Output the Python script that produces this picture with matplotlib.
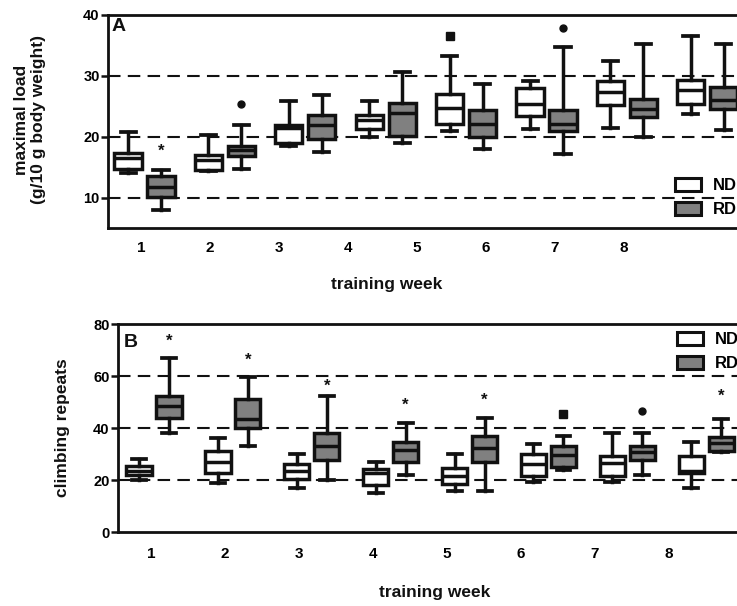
import matplotlib
matplotlib.use("Agg")
import matplotlib.pyplot as plt
from matplotlib.patches import Patch

plt.rcParams['font.family'] = ['Liberation Sans', 'DejaVu Sans']
plt.rcParams['font.weight'] = 'bold'

weeks = ['1', '2', '3', '4', '5', '6', '7', '8']
groups = ['ND', 'RD']

# Panel A: maximal load (g/10 g body weight)
a_nd_whislo = [14.0, 14.3, 18.4, 20.0, 21.0, 21.3, 21.4, 23.8]
a_nd_q1     = [14.7, 14.6, 19.0, 21.2, 22.1, 23.4, 25.2, 25.4]
a_nd_med    = [16.5, 16.2, 21.5, 22.7, 24.7, 25.4, 27.4, 27.6]
a_nd_q3     = [17.3, 17.0, 21.85, 23.6, 27.0, 28.0, 29.1, 29.3]
a_nd_whishi = [20.8, 20.3, 25.9, 25.9, 33.3, 29.1, 32.5, 36.6]

a_rd_whislo = [7.9, 14.7, 17.5, 19.0, 18.0, 17.2, 19.9, 21.1]
a_rd_q1     = [10.1, 16.8, 19.7, 20.05, 19.9, 21.0, 23.2, 24.5]
a_rd_med    = [11.75, 17.75, 21.85, 23.9, 22.1, 22.1, 24.6, 26.1]
a_rd_q3     = [13.5, 18.4, 23.5, 25.5, 24.4, 24.4, 26.2, 28.1]
a_rd_whishi = [14.6, 21.85, 26.9, 30.7, 28.7, 34.8, 35.2, 35.2]

# outliers: (group, week index, value, marker)
a_outliers = [('RD', 1, 25.4, 'o'), ('ND', 4, 36.6, 's'), ('RD', 5, 37.9, 'o')]
a_stars = [('RD', 0, 17.6)]

# Panel B: climbing repeats
b_nd_whislo = [20.0, 19.0, 16.8, 15.1, 15.9, 19.4, 19.1, 16.8]
b_nd_q1     = [22.05, 22.8, 20.3, 18.1, 18.5, 21.7, 21.7, 22.6]
b_nd_med    = [23.6, 27.0, 23.6, 22.6, 21.7, 26.0, 26.4, 23.3]
b_nd_q3     = [25.4, 31.2, 26.0, 24.1, 24.5, 29.9, 29.2, 29.2]
b_nd_whishi = [27.9, 36.0, 29.9, 27.0, 30.0, 33.8, 38.0, 34.7]

b_rd_whislo = [38.0, 33.1, 20.0, 21.9, 15.9, 24.0, 21.9, 30.8]
b_rd_q1     = [44.0, 39.9, 27.7, 26.8, 27.0, 25.0, 27.7, 31.3]
b_rd_med    = [48.5, 43.3, 33.1, 31.5, 32.2, 29.6, 30.6, 34.1]
b_rd_q3     = [52.3, 51.2, 38.2, 34.5, 37.0, 33.2, 33.2, 36.7]
b_rd_whishi = [67.0, 59.5, 52.3, 42.0, 44.0, 37.0, 38.0, 43.3]

b_outliers = [('RD', 5, 45.3, 's'), ('RD', 6, 46.7, 'o')]
b_stars = [('RD', 0, 73.2), ('RD', 1, 65.9), ('RD', 2, 56.2), ('RD', 3, 48.8),
           ('RD', 4, 50.8), ('RD', 7, 52.3)]

W, H = 737, 606
fig = plt.figure(figsize=(W / 100, H / 100), dpi=100)


def px_axes(left, top, right, bottom):
    return fig.add_axes([left / W, 1 - bottom / H, (right - left) / W, (bottom - top) / H])


def stats(wl, q1, md, q3, wh):
    return [dict(whislo=a, q1=b, med=c, q3=d, whishi=e, fliers=[])
            for a, b, c, d, e in zip(wl, q1, md, q3, wh)]


def panel(ax, nd, rd, outliers, stars, off, width, xlim, ylim, grid, yticks,
          tick_start, tick_step, letter, letter_xy, ylabel, ylabel_x, xlabel_y, xlabel_x,
          leg_xy, pad):
    n = len(weeks)
    pos = {'ND': [i + 1 - off for i in range(n)], 'RD': [i + 1 + off for i in range(n)]}
    colors = {'ND': 'white', 'RD': '#808080'}
    for g, st in (('ND', nd), ('RD', rd)):
        ax.bxp(st, positions=pos[g], widths=width, patch_artist=True, showfliers=False,
               capwidths=width * 0.55,
               boxprops=dict(facecolor=colors[g], edgecolor='#111111', linewidth=2.5),
               medianprops=dict(color='#111111', linewidth=2.5),
               whiskerprops=dict(color='#111111', linewidth=2.5),
               capprops=dict(color='#111111', linewidth=2.7), zorder=3)
    for g, i, v, m in outliers:
        ax.plot(pos[g][i], v, marker=m, color='#111111', ms=5 if m == 'o' else 5.5,
                ls='none', zorder=4)
    for g, i, v in stars:
        ax.text(pos[g][i], v, '*', ha='center', va='center', fontsize=12,
                fontweight='bold', color='#111111', zorder=4)
    for gv in grid:
        ax.axhline(gv, color='#111111', lw=1.5, ls=(0, (6, 3.5)), zorder=1)
    ax.set_xlim(*xlim)
    ax.set_ylim(*ylim)
    ax.set_yticks(yticks)
    ax.set_yticklabels([str(t) for t in yticks], fontsize=10.5, fontweight='bold')
    ax.set_xticks([tick_start + tick_step * i for i in range(n)])
    ax.set_xticklabels(weeks, fontsize=11, fontweight='bold')
    ax.tick_params(axis='x', length=0, pad=pad)
    ax.tick_params(axis='y', length=5, width=1.8, pad=1, direction='out', color='#111111')
    for s in ax.spines.values():
        s.set_linewidth(2)
        s.set_color('#111111')
    ax.text(letter_xy[0] / W, 1 - letter_xy[1] / H, letter, transform=fig.transFigure,
            fontsize=14, fontweight='bold', ha='left', va='top', color='#111111')
    fig.text(ylabel_x / W, 1 - ylabel[1] / H, ylabel[0], rotation=90, ha='center', va='center',
             fontsize=12.5, fontweight='bold', color='#111111', linespacing=1.25)
    fig.text(xlabel_x / W, 1 - xlabel_y / H, 'training week', ha='center', va='center',
             fontsize=12.5, fontweight='bold', color='#111111')
    handles = [Patch(facecolor=colors[g], edgecolor='#111111', linewidth=2.2) for g in groups]
    fig.legend(handles, groups, loc='upper left', bbox_to_anchor=(leg_xy[0] / W, 1 - leg_xy[1] / H),
               frameon=False, handlelength=1.55, handleheight=0.8,
               handletextpad=0.7, labelspacing=0.55, borderpad=0, borderaxespad=0,
               prop=dict(weight='bold', size=12))


axA = px_axes(108, 15, 768, 228)
panel(axA,
      stats(a_nd_whislo, a_nd_q1, a_nd_med, a_nd_q3, a_nd_whishi),
      stats(a_rd_whislo, a_rd_q1, a_rd_med, a_rd_q3, a_rd_whishi),
      a_outliers, a_stars, off=0.205, width=0.34,
      xlim=(0.546, 0.546 + 660 / 80.4), ylim=(5, 40), grid=[10, 20, 30], yticks=[10, 20, 30, 40],
      tick_start=0.9565, tick_step=0.858, letter='A', letter_xy=(112, 18),
      ylabel=('maximal load\n(g/10 g body weight)', 120), ylabel_x=30,
      xlabel_y=284, xlabel_x=387, leg_xy=(675, 178), pad=9)

axB = px_axes(118, 324, 768, 532)
panel(axB,
      stats(b_nd_whislo, b_nd_q1, b_nd_med, b_nd_q3, b_nd_whishi),
      stats(b_rd_whislo, b_rd_q1, b_rd_med, b_rd_q3, b_rd_whishi),
      b_outliers, b_stars, off=0.19, width=0.32,
      xlim=(0.544, 0.544 + 650 / 78.9), ylim=(0, 80), grid=[20, 40, 60], yticks=[0, 20, 40, 60, 80],
      tick_start=0.962, tick_step=0.938, letter='B', letter_xy=(124, 334),
      ylabel=('climbing repeats', 428), ylabel_x=63,
      xlabel_y=592, xlabel_x=435, leg_xy=(677, 332), pad=11)

fig.savefig('out.png', dpi=100)
